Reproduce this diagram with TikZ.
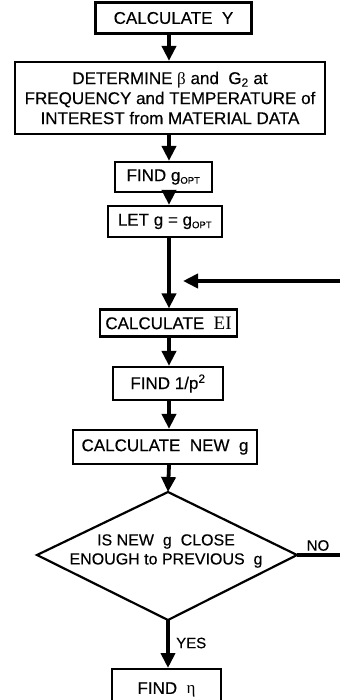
\documentclass[tikz,border=0pt]{standalone}
\usepackage{fontspec}
\setmainfont[FakeBold=0.3]{Liberation Sans}
\newfontfamily\serifEI{Liberation Serif}
\usetikzlibrary{arrows.meta}
\begin{document}
\begin{tikzpicture}[x=1pt,y=-1pt,
  box/.style={draw,line width=2.2pt,inner sep=0pt,align=center,
    font=\fontsize{17}{20}\selectfont},
  arr/.style={line width=3.8pt,-{Triangle[length=15pt,width=14pt]}},
  lbl/.style={font=\fontsize{15}{17}\selectfont,inner sep=0pt}]
\useasboundingbox (0,0) rectangle (340,700);
\clip (0,0) rectangle (340,700);
\coordinate (ax) at (169,0);
\node[box,minimum width=156pt,minimum height=31pt] (cy) at (173.5,18) {CALCULATE\ \ Y};
\node[box,minimum width=310pt,minimum height=72pt] (det) at (170,98)
  {DETERMINE {\serifEI β} and\ \ G\textsubscript{2} at\\FREQUENCY and TEMPERATURE of\\INTEREST from MATERIAL DATA};
\node[box,minimum width=97pt,minimum height=30pt] (fg) at (163.5,177) {FIND g\textsubscript{\fontsize{9.5}{9.5}\selectfont OPT}};
\node[box,minimum width=114pt,minimum height=31pt] (let) at (165,221.5) {LET g = g\textsubscript{\fontsize{9.5}{9.5}\selectfont OPT}};
\node[box,minimum width=137pt,minimum height=27pt] (ei) at (168.5,323) {CALCULATE\ \ {\serifEI\fontsize{19}{20}\selectfont EI}};
\node[box,minimum width=110pt,minimum height=33pt] (fp) at (168,383.5) {FIND 1/p\textsuperscript{2}};
\node[box,minimum width=184pt,minimum height=34pt] (cng) at (165,447) {CALCULATE\ \ NEW\ \ g};
\coordinate (dt) at (168,492);
\coordinate (dl) at (37,555);
\coordinate (dr) at (297,555);
\coordinate (db) at (168,620);
\draw[line width=2.2pt,line join=miter] (dt) -- (dr) -- (db) -- (dl) -- cycle;
\node[align=center,inner sep=0pt,font=\fontsize{16}{19}\selectfont] (dtext) at (166,551)
  {IS NEW\ \ g\ \ CLOSE\\ENOUGH to PREVIOUS\ \ g};
\node[box,minimum width=109pt,minimum height=44pt,anchor=north] (fe) at (166.5,668) {\raisebox{6pt}{FIND\ \ {\serifEI η}}};
\coordinate (redge) at (340,281);
\coordinate (nedge) at (340,555);
\coordinate (join) at (169,281);
\draw[arr] (cy.south -| ax) -- (det.north -| ax);
\draw[arr] (det.south -| ax) -- (fg.north -| ax);
\draw[arr] (fg.south -| ax) -- (let.north -| ax);
\draw[arr] (let.south -| ax) -- (ei.north -| ax);
\draw[arr] (redge) -- ([xshift=14pt]join);
\draw[arr] (ei.south -| ax) -- (fp.north -| ax);
\draw[arr] (fp.south -| ax) -- (cng.north -| ax);
\draw[arr] (cng.south -| ax) -- (dt);
\draw[arr] (db) -- (fe.north -| db);
\draw[line width=3.8pt] (dr) -- (nedge);
\node[lbl,anchor=south] (no) at (318,551) {NO};
\node[lbl,anchor=west] (yes) at (176,643) {YES};
\end{tikzpicture}
\end{document}
